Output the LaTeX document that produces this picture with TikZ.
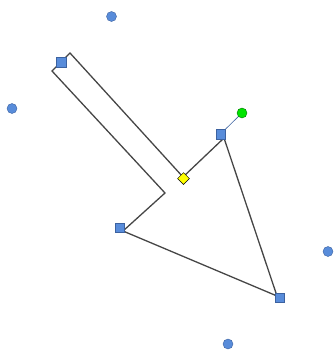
\documentclass[tikz,border=0pt]{standalone}
\usepackage{xcolor}
\usepackage{tikz}
\usetikzlibrary{shapes.geometric}
\definecolor{handleblue}{RGB}{88,140,218}
\definecolor{handleedge}{RGB}{60,98,160}
\definecolor{rotgreen}{RGB}{0,228,0}
\definecolor{adjyellow}{RGB}{255,255,0}
\definecolor{outlinegrey}{RGB}{70,70,70}

\tikzset{
  sizehandle/.style={draw=handleedge, fill=handleblue, rectangle, inner sep=0pt, minimum size=9.5pt, line width=0.5pt},
  sidehandle/.style={draw=handleedge, fill=handleblue, circle, inner sep=0pt, minimum size=10pt, line width=0.4pt},
  rothandle/.style={draw=green!45!black, fill=rotgreen, circle, inner sep=0pt, minimum size=10pt, line width=0.4pt},
  adjhandle/.style={draw=black, fill=adjyellow, diamond, inner sep=0pt, minimum size=12pt, line width=0.5pt}
}

\begin{document}
\begin{tikzpicture}[x=1pt, y=-1pt]
  \useasboundingbox (0,0) rectangle (333,351);
  % ---- arrow outline ----
  % tail runs from top left, head points to bottom right
  \coordinate (tailA) at (70,53);
  \coordinate (notchA) at (183,177);
  \coordinate (headtop) at (224,138);
  \coordinate (headtip) at (277,296);
  \coordinate (headleft) at (123,231);
  \coordinate (notchB) at (165,193);
  \coordinate (tailB) at (52,71);
  \draw[outlinegrey, line width=1.3pt, line join=miter]
    (tailA) -- (notchA) -- (headtop) -- (headtip) -- (headleft) -- (notchB) -- (tailB) -- cycle;
  % ---- selection handles ----
  \node[rothandle] (rot) at (242,113) {};
  \node[sizehandle] (hTop) at (220.5,134) {};
  \draw[handleedge, line width=0.6pt] (rot) -- (hTop);
  \node[sizehandle] (hTail) at (61,62) {};
  \node[sizehandle] (hLeft) at (119.5,227.5) {};
  \node[sizehandle] (hTip) at (279.5,297.5) {};
  \node[adjhandle] (adj) at (183.5,178.5) {};
  % side handles of the bounding frame
  \node[sidehandle] (sN) at (111.5,16.5) {};
  \node[sidehandle] (sW) at (12,108.5) {};
  \node[sidehandle] (sE) at (328,251.5) {};
  \node[sidehandle] (sS) at (228,344) {};
\end{tikzpicture}
\end{document}
